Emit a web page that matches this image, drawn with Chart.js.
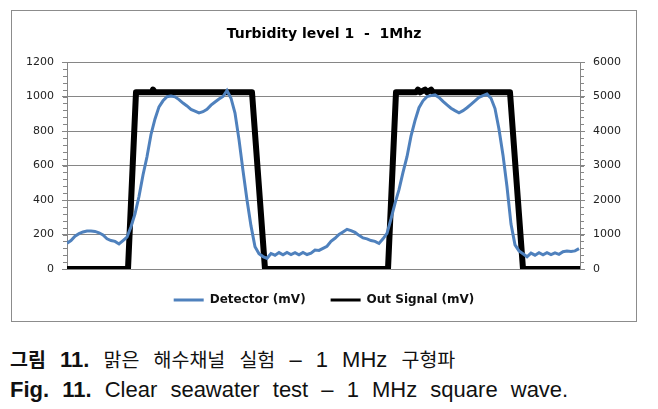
<!DOCTYPE html>
<html>
<head>
<meta charset="utf-8">
<script src="https://cdn.jsdelivr.net/npm/chart.js@4.4.1/dist/chart.umd.min.js"></script>
<style>
  body { margin: 0; background: #fff; width: 658px; height: 409px; position: relative; overflow: hidden; }
  #frame { position: absolute; left: 11px; top: 10px; width: 624px; height: 310px; border: 1px solid #8c8c8c; }
  #frame canvas { display: block; }
  .cap { position: absolute; left: 10px; font-family: "Liberation Sans", "Noto Sans CJK KR", sans-serif; font-size: 22px; line-height: 22px; color: #111; white-space: nowrap; word-spacing: 7px; }
  .ko { font-family: "Noto Sans CJK KR", sans-serif; font-size: 19.5px; }
  #cap1 { top: 348px; word-spacing: 8px; }
  #cap2 { top: 379px; }
</style>
</head>
<body>
<div id="frame"><canvas id="c" width="624" height="310"></canvas></div>
<div class="cap" id="cap1"><b><span class="ko">그림</span> 11.</b> <span class="ko">맑은</span> <span class="ko">해수채널</span> <span class="ko">실험</span> – 1 MHz <span class="ko">구형파</span></div>
<div class="cap" id="cap2"><b>Fig. 11.</b> Clear seawater test – 1 MHz square wave.</div>
<script>
// detector reading every 4 samples, starting at sample 0
const sampleStep = 4;
const detector = [
  150, 165, 190, 205, 215, 220, 220, 218, 210, 197,
  175, 165, 160, 145, 165, 185, 245, 320, 420, 545,
  651, 780, 870, 940, 975, 999, 1003, 998, 982, 962,
  945, 925, 915, 905, 912, 926, 950, 968, 985, 1000,
  1035, 990, 904, 750, 570, 400, 250, 129, 88, 72,
  62, 90, 80, 95, 82, 96, 84, 95, 82, 96,
  84, 92, 110, 108, 120, 132, 160, 178, 200, 215,
  230, 222, 212, 195, 180, 175, 165, 160, 148, 175,
  207, 290, 381, 460, 560, 651, 770, 860, 935, 975,
  999, 1005, 1009, 995, 972, 951, 932, 918, 906, 918,
  935, 955, 975, 995, 1005, 1014, 990, 930, 810, 660,
  477, 260, 140, 105, 88, 71, 92, 80, 94, 82,
  95, 84, 94, 85, 100, 104, 102, 105, 118
];

// square wave output, corner samples
const outSample = [0, 61, 69, 85, 86, 88, 185, 198, 321, 329, 349, 351, 353, 358, 360, 364, 366, 443, 456, 513];
const outSignal = [0, 0, 5120, 5120, 5200, 5120, 5120, 0, 0, 5120, 5120, 5200, 5120, 5200, 5120, 5200, 5120, 5120, 0, 0];

const leftTicks = [0, 200, 400, 600, 800, 1000, 1200];
const rightTicks = [0, 1000, 2000, 3000, 4000, 5000, 6000];

const gridColor = "#868686";
const tickFont = { family: "DejaVu Sans", size: 11 };

// small minor tick marks, 4 between each labelled tick
const minorTicks = {
  id: "minorTicks",
  afterDraw(chart) {
    const ctx = chart.ctx;
    ctx.save();
    ctx.strokeStyle = gridColor;
    ctx.lineWidth = 1;
    for (const id of ["y", "y1"]) {
      const s = chart.scales[id];
      const step = (s.max - s.min) / 30;
      for (let v = s.min; v <= s.max; v += step) {
        const py = Math.round(s.getPixelForValue(v)) + 0.5;
        ctx.beginPath();
        if (id === "y") {
          ctx.moveTo(s.right - 4, py);
          ctx.lineTo(s.right, py);
        } else {
          ctx.moveTo(s.left, py);
          ctx.lineTo(s.left + 4, py);
        }
        ctx.stroke();
      }
    }
    ctx.restore();
  }
};

new Chart(document.getElementById("c"), {
  type: "line",
  data: {
    datasets: [
      {
        label: "Detector (mV)",
        data: detector.map((v, i) => ({ x: i * sampleStep, y: v })),
        borderColor: "#4f81bd",
        backgroundColor: "#4f81bd",
        borderWidth: 3,
        pointRadius: 0,
        tension: 0,
        yAxisID: "y"
      },
      {
        label: "Out Signal (mV)",
        data: outSample.map((t, i) => ({ x: t, y: outSignal[i] })),
        borderColor: "#000",
        backgroundColor: "#000",
        borderWidth: 6,
        pointRadius: 0,
        tension: 0,
        borderJoinStyle: "round",
        borderCapStyle: "round",
        yAxisID: "y1"
      }
    ]
  },
  options: {
    responsive: false,
    animation: false,
    layout: { padding: { left: 0, right: 0, top: 0, bottom: 5 } },
    scales: {
      x: { type: "linear", min: 0, max: 513, display: false },
      y: {
        position: "left",
        min: 0,
        max: 1200,
        afterBuildTicks: (s) => { s.ticks = leftTicks.map((v) => ({ value: v })); },
        afterFit: (s) => { s.width = 55; },
        ticks: { color: "#222", font: tickFont, padding: 8, callback: (v) => String(v) },
        grid: { color: gridColor, tickLength: 5 },
        border: { color: gridColor }
      },
      y1: {
        position: "right",
        min: 0,
        max: 6000,
        afterBuildTicks: (s) => { s.ticks = rightTicks.map((v) => ({ value: v })); },
        afterFit: (s) => { s.width = 56; },
        ticks: { color: "#222", font: tickFont, padding: 8, callback: (v) => String(v) },
        grid: { drawOnChartArea: false, color: gridColor, tickLength: 5 },
        border: { color: gridColor }
      }
    },
    plugins: {
      title: {
        display: true,
        text: "Turbidity level 1  -  1Mhz",
        color: "#000",
        font: { family: "DejaVu Sans", size: 14, weight: "bold" },
        padding: { top: 15, bottom: 19.2 }
      },
      legend: {
        position: "bottom",
        labels: {
          color: "#111",
          font: { family: "DejaVu Sans", size: 12, weight: "bold" },
          boxWidth: 30,
          boxHeight: 3,
          padding: 25,
          generateLabels(chart) {
            const items = Chart.defaults.plugins.legend.labels.generateLabels(chart);
            items.forEach((it) => { it.lineWidth = 0; it.fillStyle = it.strokeStyle; });
            return items;
          }
        }
      },
      tooltip: { enabled: false }
    }
  },
  plugins: [minorTicks]
});
</script>
</body>
</html>
